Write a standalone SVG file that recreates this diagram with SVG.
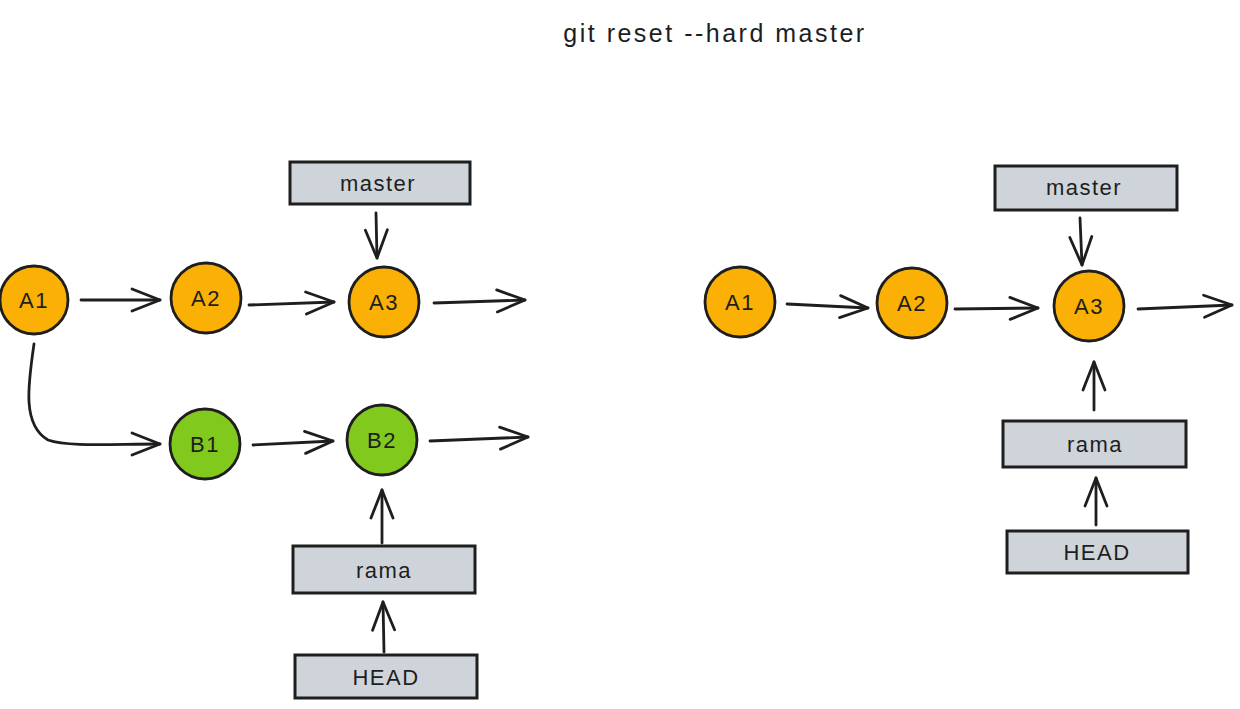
<svg xmlns="http://www.w3.org/2000/svg" width="1240" height="709" viewBox="0 0 1240 709">
<style>
text{font-family:"Liberation Sans","DejaVu Sans",sans-serif;fill:#1e1e1e;text-anchor:middle;dominant-baseline:central}
.lbl{font-size:22px;letter-spacing:1.5px}
.title{font-size:25px;letter-spacing:2.5px}
.box rect{fill:#ced4da;stroke:#1e1e1e;stroke-width:3}
.a circle{fill:#fab005;stroke:#1e1e1e;stroke-width:2.8}
.b circle{fill:#82c91e;stroke:#1e1e1e;stroke-width:2.8}
.con path{fill:none;stroke:#1e1e1e;stroke-width:2.8;stroke-linecap:round;marker-end:url(#ah)}
</style>
<defs>
<marker id="ah" markerUnits="userSpaceOnUse" viewBox="0 0 32 28" refX="30" refY="14" markerWidth="32" markerHeight="28" orient="auto">
<path d="M2,3 L30,14 L2,25" fill="none" stroke="#1e1e1e" stroke-width="2.8" stroke-linecap="round" stroke-linejoin="round"/>
</marker>
</defs>
<rect width="1240" height="709" fill="#ffffff"/>
<text class="title" x="715" y="33">git reset --hard master</text>

<g id="L-master" class="box"><rect x="290" y="162" width="180" height="42"/><text class="lbl" x="378" y="183">master</text></g>
<g id="L-A1" class="a"><circle cx="34" cy="300" r="34"/><text class="lbl" x="34" y="300">A1</text></g>
<g id="L-A2" class="a"><circle cx="206" cy="298" r="35"/><text class="lbl" x="206" y="298">A2</text></g>
<g id="L-A3" class="a"><circle cx="384" cy="302" r="35"/><text class="lbl" x="384" y="302">A3</text></g>
<g id="L-B1" class="b"><circle cx="205" cy="444" r="35"/><text class="lbl" x="205" y="444">B1</text></g>
<g id="L-B2" class="b"><circle cx="382" cy="440" r="35"/><text class="lbl" x="382" y="440">B2</text></g>
<g id="L-rama" class="box"><rect x="293" y="546" width="182" height="47"/><text class="lbl" x="384" y="570">rama</text></g>
<g id="L-HEAD" class="box"><rect x="295" y="655" width="182" height="43"/><text class="lbl" x="386" y="677">HEAD</text></g>

<g id="R-master" class="box"><rect x="995" y="166" width="182" height="44"/><text class="lbl" x="1084" y="187">master</text></g>
<g id="R-A1" class="a"><circle cx="740" cy="302" r="35"/><text class="lbl" x="740" y="302">A1</text></g>
<g id="R-A2" class="a"><circle cx="912" cy="303" r="35"/><text class="lbl" x="912" y="303">A2</text></g>
<g id="R-A3" class="a"><circle cx="1089" cy="306" r="35"/><text class="lbl" x="1089" y="306">A3</text></g>
<g id="R-rama" class="box"><rect x="1003" y="421" width="183" height="46"/><text class="lbl" x="1095" y="444">rama</text></g>
<g id="R-HEAD" class="box"><rect x="1007" y="531" width="181" height="42"/><text class="lbl" x="1097" y="552">HEAD</text></g>

<g id="connectors" class="con">
<path d="M376,213 L377,258"/>
<path d="M81,300 L160,300"/>
<path d="M249,305 L334,302"/>
<path d="M434,303 L525,300"/>
<path d="M34,344 C28,385 22,425 48,440 C68,447 110,444 160,444"/>
<path d="M253,445 L333,441"/>
<path d="M430,441 L528,437"/>
<path d="M382,543 L382,490"/>
<path d="M384,652 L383,602"/>
<path d="M1080,218 L1082,265"/>
<path d="M787,304 L868,308"/>
<path d="M955,309 L1038,308"/>
<path d="M1138,309 L1232,305"/>
<path d="M1094,410 L1094,362"/>
<path d="M1096,525 L1096,478"/>
</g>
</svg>
